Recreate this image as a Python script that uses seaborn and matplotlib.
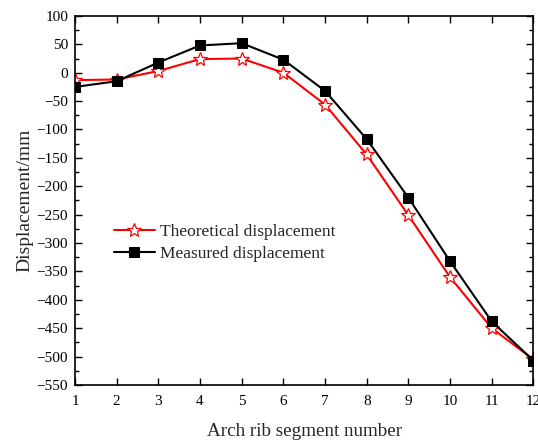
import matplotlib
matplotlib.use("Agg")
import matplotlib.pyplot as plt
import seaborn as sns
import pandas as pd
from matplotlib.ticker import MultipleLocator

segments = list(range(1, 13))
theoretical = [-13, -12, 3, 24, 25, 0, -56, -144, -251, -360, -450, -505]
measured = [-25, -15, 18, 48, 52, 23, -32, -117, -220, -332, -438, -507]

sns.set_style("ticks")
plt.rcParams['font.family'] = ['Liberation Serif', 'DejaVu Serif']
plt.rcParams['mathtext.fontset'] = 'stix'

fig = plt.figure(figsize=(5.38, 4.43), dpi=100)
ax = fig.add_axes([0.1394, 0.131, 0.852, 0.833])

df = pd.DataFrame({"seg": segments, "theo": theoretical, "meas": measured})
sns.lineplot(data=df, x="seg", y="theo", ax=ax, color="red", lw=1.5,
             marker="*", markersize=10, markerfacecolor="white",
             markeredgecolor="red", markeredgewidth=0.9,
             label="Theoretical displacement")
sns.lineplot(data=df, x="seg", y="meas", ax=ax, color="black", lw=1.5,
             marker="s", markersize=6.5, markerfacecolor="black",
             markeredgecolor="black", label="Measured displacement")

ax.set_xlim(1, 12)
ax.set_ylim(-550, 100)
ax.xaxis.set_major_locator(MultipleLocator(1))
ax.yaxis.set_major_locator(MultipleLocator(50))
ax.yaxis.set_minor_locator(MultipleLocator(25))
ax.tick_params(axis='both', which='both', direction='in', top=True, right=True,
               labelsize=11, colors='black')
ax.tick_params(which='major', length=5, width=1)
ax.tick_params(which='minor', length=3, width=1)
ax.tick_params(axis='x', which='major', pad=7)
ax.tick_params(axis='y', which='major', pad=5)
ax.tick_params(axis='x', which='minor', bottom=False, top=False)
for s in ax.spines.values():
    s.set_linewidth(1.2)
    s.set_color('black')

ax.set_xlabel("Arch rib segment number", fontsize=13.7, labelpad=11)
ax.set_ylabel("Displacement/mm", fontsize=14)
ax.yaxis.set_label_coords(-0.09, 0.5)

leg = ax.legend(loc='center left', bbox_to_anchor=(0.05, 0.385), frameon=False,
                fontsize=12.5, handlelength=2.4, handletextpad=0.3,
                labelspacing=0.3)

fig.savefig("out.png", dpi=100)
